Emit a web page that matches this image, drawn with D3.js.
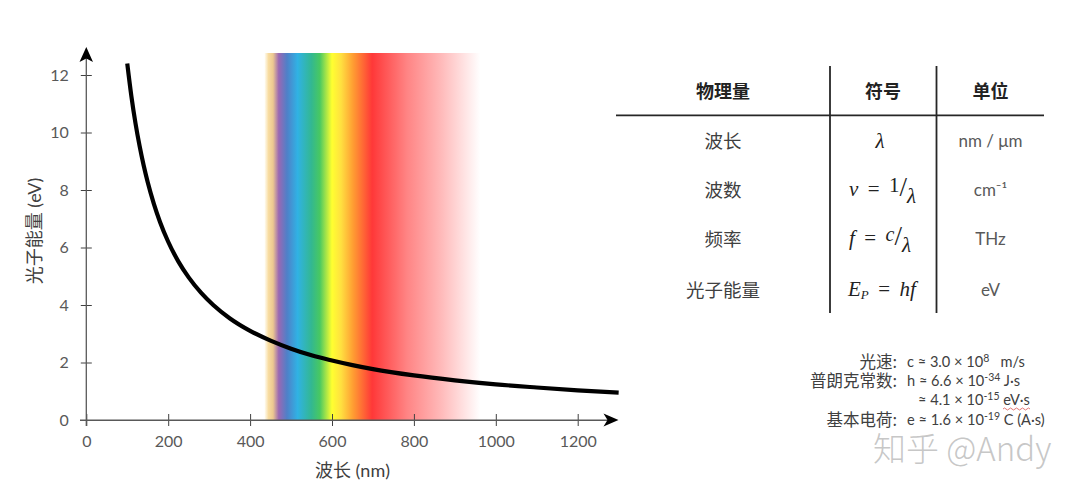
<!DOCTYPE html>
<html><head><meta charset="utf-8">
<script src="https://cdn.jsdelivr.net/npm/d3@7"></script>
<style>
html,body{margin:0;padding:0;background:#fff;overflow:hidden}
svg{display:block}
text{font-family:"Lato","Noto Sans CJK SC",sans-serif;white-space:pre}
.cjk{font-family:"Noto Sans CJK SC",sans-serif}
.math{font-family:"Liberation Serif","DejaVu Serif",serif;font-style:italic}
</style></head><body>
<svg id="c" width="1080" height="497"></svg>
<script>
const xTicks=[0,200,400,600,800,1000,1200];
const yTicks=[0,2,4,6,8,10,12];
const curveWavelength=[100,110,120,130,140,150,165,180,200,225,250,280,310,350,400,450,500,550,600,650,700,800,900,1000,1100,1200,1300];
const curveEnergy=[12.4,11.27,10.33,9.54,8.86,8.27,7.52,6.89,6.2,5.51,4.96,4.43,4,3.54,3.1,2.76,2.48,2.25,2.07,1.91,1.77,1.55,1.38,1.24,1.13,1.03,0.95];
const spectrumWavelength=[435,445,456,470,490,516,550,570,600,622,652,698,783,870,962];
const spectrumColor=["#fffef8","#f8dca0","#ecc890","#9a68b4","#4f80c8","#30b2e4","#33b890","#48c862","#ffff30","#ffe040","#ff9c32","#ff3838","#ff8484","#ffbcbc","#ffffff"];
const tableHeaders=["物理量","符号","单位"];
const tableNames=["波长","波数","频率","光子能量"];
const tableUnits=["nm / μm","cm⁻¹","THz","eV"];

const svg=d3.select("#c");
const x=d3.scaleLinear().domain([0,1200]).range([86.3,577.7]);
const y=d3.scaleLinear().domain([0,12]).range([420,75]);
const ink="#595959";

const first=spectrumWavelength[0], last=spectrumWavelength[spectrumWavelength.length-1];
const grad=svg.append("defs").append("linearGradient").attr("id","sp")
  .attr("gradientUnits","userSpaceOnUse")
  .attr("x1",x(first)).attr("x2",x(last)).attr("y1",0).attr("y2",0);
grad.selectAll("stop").data(spectrumWavelength).join("stop")
  .attr("offset",d=>(d-first)/(last-first))
  .attr("stop-color",(d,i)=>spectrumColor[i]);
svg.append("rect").attr("x",x(first)).attr("width",x(last)-x(first))
  .attr("y",53).attr("height",y(0)-53).attr("fill","url(#sp)");

const gx=svg.append("g").attr("transform",`translate(0,${y(0)})`)
  .call(d3.axisBottom(x).tickValues(xTicks).tickFormat(d3.format("d")).tickSize(6).tickPadding(10));
gx.select(".domain").remove();
gx.selectAll("line").attr("y1",-6).attr("stroke","#404040").attr("stroke-width",1);
gx.selectAll("text").attr("font-size",16).attr("fill",ink).attr("font-family","Lato");
const gy=svg.append("g").attr("transform",`translate(${x(0)},0)`)
  .call(d3.axisLeft(y).tickValues(yTicks).tickSize(5.5).tickPadding(12));
gy.select(".domain").remove();
gy.selectAll("line").attr("x1",5.5).attr("stroke","#404040").attr("stroke-width",1);
gy.selectAll("text").attr("font-size",16).attr("fill",ink).attr("font-family","Lato");

svg.append("line").attr("x1",80).attr("x2",612).attr("y1",y(0)+.3).attr("y2",y(0)+.3).attr("stroke","#595959").attr("stroke-width",1.4);
svg.append("line").attr("x1",x(0)).attr("x2",x(0)).attr("y1",426).attr("y2",55).attr("stroke","#595959").attr("stroke-width",1.3);
svg.append("path").attr("d","M86.3,47 L93,62 L86.3,58.5 L79.5,62 Z").attr("fill","#000");
svg.append("path").attr("d","M618.5,420 L603.5,413.5 L607.5,420 L603.5,426.5 Z").attr("fill","#000");

const line=d3.line().x(d=>x(d)).y((d,i)=>y(curveEnergy[i])).curve(d3.curveMonotoneX);
svg.append("path").attr("d",line(curveWavelength)).attr("fill","none").attr("stroke","#000").attr("stroke-width",4.2);

svg.append("text").attr("x",352.5).attr("y",476.5).attr("text-anchor","middle").attr("font-size",18).attr("fill","#404040").text("波长 (nm)");
svg.append("text").attr("transform","translate(41,231) rotate(-90)").attr("text-anchor","middle").attr("font-size",18).attr("fill","#404040").text("光子能量 (eV)");

const rule=(a,b,c,d)=>svg.append("line").attr("x1",a).attr("y1",b).attr("x2",c).attr("y2",d).attr("stroke","#262626").attr("stroke-width",1.8);
rule(616,115.3,1044,115.3); rule(830,66,830,313); rule(936.5,66,936.5,313);

const colX=[723,883,990.5];
const rowY=[147.5,196.5,245.5,296.5];
svg.selectAll(".h").data(tableHeaders).join("text").attr("class","cjk")
  .attr("x",(d,i)=>colX[i]).attr("y",98).attr("text-anchor","middle")
  .attr("font-size",18).attr("font-weight",700).attr("fill","#222").text(d=>d);
svg.selectAll(".n").data(tableNames).join("text").attr("class","cjk")
  .attr("x",colX[0]).attr("y",(d,i)=>rowY[i]).attr("text-anchor","middle")
  .attr("font-size",18.5).attr("fill","#404040").text(d=>d);
svg.selectAll(".u").data(tableUnits).join("text")
  .attr("x",colX[2]).attr("y",(d,i)=>rowY[i]-.5).attr("text-anchor","middle")
  .attr("font-size",17).attr("fill",ink).text(d=>d);

function math(px,py,parts){
  const t=svg.append("text").attr("class","math").attr("x",px).attr("y",py).attr("fill","#222").attr("font-size",21);
  parts.forEach(p=>{const s=t.append("tspan").text(p.t);
    if(p.dy)s.attr("dy",p.dy); if(p.fs)s.attr("font-size",p.fs); if(p.up)s.attr("font-style","normal");});
}
math(875.5,147.5,[{t:"λ"}]);
math(849,196,[{t:"ν\u2009 "},{t:"=\u2009 ",up:1},{t:"1",up:1,fs:21,dy:-4},{t:"/",up:1,fs:27,dy:4},{t:"λ",dy:7}]);
math(849,245,[{t:"f\u2009 "},{t:"=\u2009 ",up:1},{t:"c",fs:20,dy:-4},{t:"/",up:1,fs:27,dy:4},{t:"λ",dy:7}]);
math(848,296,[{t:"E"},{t:"P",fs:13,dy:3},{t:"\u2009 ",dy:-3},{t:"=\u2009 ",up:1},{t:"hf"}]);

const noteLabels=["光速:","普朗克常数:","基本电荷:"];
const noteLabelY=[367.5,386.5,425.5];
svg.selectAll(".l").data(noteLabels).join("text").attr("class","cjk")
  .attr("x",897).attr("y",(d,i)=>noteLabelY[i]).attr("text-anchor","end")
  .attr("font-size",16.5).attr("fill","#404040").text(d=>d);
function note(px,py,a,exp,b){
  const t=svg.append("text").attr("x",px).attr("y",py).attr("font-size",14.6).attr("fill","#404040");
  t.append("tspan").text(a);
  t.append("tspan").attr("dy",-5).attr("font-size",10.5).text(exp);
  t.append("tspan").attr("dy",5).text(b);
}
note(907,367,"c ≈ 3.0 × 10","8","   m/s");
note(907,386,"h ≈ 6.6 × 10","-34"," J·s");
note(918,405,"≈ 4.1 × 10","-15"," eV·s");
note(907,425,"e ≈ 1.6 × 10","-19"," C (A·s)");
svg.append("path").attr("d","M1003,409 q1.5,-2 3,0 t3,0 t3,0 t3,0 t3,0 t3,0 t3,0 t3,0 t3,0").attr("fill","none").attr("stroke","#d9534f").attr("stroke-width",.8);

svg.append("text").attr("class","cjk").attr("x",873).attr("y",461).attr("font-size",33).attr("font-weight",300)
  .attr("fill","#bdbdbd").attr("fill-opacity",.85).text("知乎 @Andy");
</script>
</body></html>
